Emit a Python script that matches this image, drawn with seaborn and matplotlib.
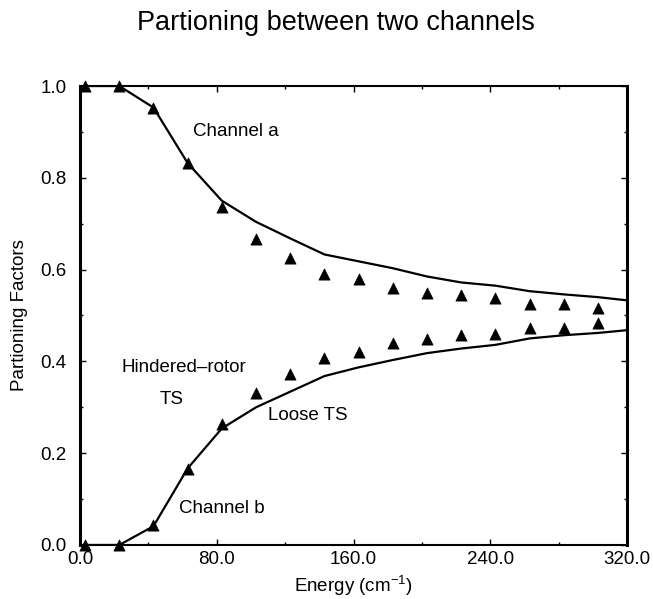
import matplotlib
matplotlib.use("Agg")
import matplotlib.pyplot as plt
from matplotlib.ticker import MultipleLocator, FormatStrFormatter
import seaborn as sns
import pandas as pd

# Sampled energies (cm^-1) for the computed points
energy_pts = [3, 23, 43, 63, 83, 103, 123, 143, 163, 183, 203, 223, 243, 263, 283, 303]
# Hindered-rotor TS partitioning factors
hr_a = [1.0, 1.0, 0.953, 0.832, 0.736, 0.666, 0.625, 0.590, 0.579, 0.559,
        0.550, 0.544, 0.539, 0.526, 0.526, 0.517]
hr_b = [0.0, 0.0, 0.044, 0.165, 0.264, 0.332, 0.373, 0.408, 0.421, 0.439,
        0.448, 0.457, 0.460, 0.473, 0.473, 0.483]

# Loose TS curves
energy_line = [3, 23, 43, 63, 83, 103, 123, 143, 163, 183, 203, 223, 243, 263, 283, 303, 320]
loose_a = [1.0, 1.0, 0.953, 0.832, 0.750, 0.704, 0.668, 0.633, 0.618, 0.603,
           0.585, 0.572, 0.565, 0.553, 0.546, 0.540, 0.533]
loose_b = [0.0, 0.0, 0.041, 0.167, 0.254, 0.300, 0.334, 0.368, 0.387, 0.403,
           0.418, 0.428, 0.436, 0.450, 0.457, 0.462, 0.468]

x_ticks = [0.0, 80.0, 160.0, 240.0, 320.0]
y_ticks = [0.0, 0.2, 0.4, 0.6, 0.8, 1.0]

sns.set_theme(style="ticks")
plt.rcParams["font.family"] = ["Liberation Sans", "DejaVu Sans"]
plt.rcParams["mathtext.fontset"] = "custom"
plt.rcParams["mathtext.rm"] = "Liberation Sans"
plt.rcParams["mathtext.it"] = "Liberation Sans:italic"
plt.rcParams["text.color"] = "black"
plt.rcParams["axes.labelcolor"] = "black"

pts = pd.DataFrame({"E": energy_pts * 2, "P": hr_a + hr_b,
                    "ch": ["a"] * len(hr_a) + ["b"] * len(hr_b)})
lines = pd.DataFrame({"E": energy_line * 2, "P": loose_a + loose_b,
                      "ch": ["a"] * len(loose_a) + ["b"] * len(loose_b)})

fig = plt.figure(figsize=(6.53, 5.99), dpi=100)
ax = fig.add_axes([0.1225, 0.0902, 0.8377, 0.7662])

sns.lineplot(data=lines, x="E", y="P", units="ch", estimator=None,
             color="black", linewidth=1.6, ax=ax, legend=False)
sns.scatterplot(data=pts, x="E", y="P", marker="^", color="black",
                s=65, edgecolor="black", linewidth=0.5, ax=ax,
                legend=False, clip_on=False, zorder=5)

ax.set_xlim(0, 320)
ax.set_ylim(0, 1.0)
ax.set_xticks(x_ticks)
ax.set_yticks(y_ticks)
ax.xaxis.set_major_formatter(FormatStrFormatter("%.1f"))
ax.yaxis.set_major_formatter(FormatStrFormatter("%.1f"))
ax.xaxis.set_minor_locator(MultipleLocator(40))
ax.yaxis.set_minor_locator(MultipleLocator(0.1))
ax.tick_params(which="both", direction="in", top=True, right=True,
               labelsize=13.5, colors="black", width=1.0)
ax.tick_params(which="major", length=4.5)
ax.tick_params(which="minor", length=2.5)
ax.tick_params(axis="y", which="major", pad=9.5)
ax.tick_params(axis="x", which="major", pad=4)

for side, lw in {"left": 2.2, "right": 2.2, "top": 1.5, "bottom": 1.5}.items():
    ax.spines[side].set_visible(True)
    ax.spines[side].set_linewidth(lw)
    ax.spines[side].set_color("black")

ax.set_xlabel("Energy (cm$^{-1}$)", fontsize=13.5, labelpad=4.5, color="black")
ax.set_ylabel("Partioning Factors", fontsize=13.5, labelpad=9, color="black")

ax.text(66, 0.90, "Channel a", fontsize=13.5, va="center", ha="left")
ax.text(24.5, 0.386, "Hindered\u2013rotor", fontsize=13.5, va="center", ha="left")
ax.text(53.7, 0.318, "TS", fontsize=13.5, va="center", ha="center")
ax.text(110, 0.283, "Loose TS", fontsize=13.5, va="center", ha="left")
ax.text(58, 0.08, "Channel b", fontsize=13.5, va="center", ha="left")

fig.suptitle("Partioning between two channels", x=0.515, y=0.962,
             va="center", fontsize=19.5, color="black")

fig.savefig("out.png", dpi=100, facecolor="white")
